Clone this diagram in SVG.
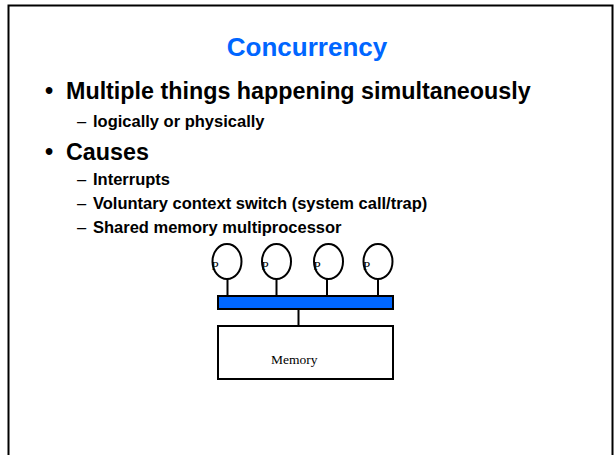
<svg xmlns="http://www.w3.org/2000/svg" width="614" height="455" viewBox="0 0 614 455">
  <style>
    .frame { fill: none; stroke: #000; stroke-width: 2; }
    .title { font-family: "Liberation Sans", Arial, sans-serif; font-weight: bold; font-size: 26px; fill: #0066ff; }
    .main { font-family: "Liberation Sans", Arial, sans-serif; font-weight: bold; font-size: 23.3px; fill: #000; }
    .sub { font-family: "Liberation Sans", Arial, sans-serif; font-weight: bold; font-size: 16.5px; fill: #000; }
    .dash { font-family: "Liberation Sans", Arial, sans-serif; font-size: 16.5px; fill: #000; }
    .cpu { fill: none; stroke: #000; stroke-width: 2; }
    .plabel { font-family: "Liberation Serif", "Times New Roman", serif; font-size: 13px; fill: #000; }
    .bus { fill: #0066ff; stroke: #000; stroke-width: 2; }
    .mem { fill: #fff; stroke: #000; stroke-width: 2; }
    .memtext { font-family: "Liberation Serif", "Times New Roman", serif; font-size: 13.5px; fill: #000; }
    .wire { stroke: #000; stroke-width: 2; fill: none; }
  </style>

  <!-- slide border (bottom edge runs off the page) -->
  <rect class="frame" x="8.5" y="5.5" width="604" height="470"/>

  <!-- heading and bullet text -->
  <text class="title" x="307" y="56" text-anchor="middle">Concurrency</text>

  <text class="main" x="45" y="99">•</text>
  <text class="main" x="66" y="99">Multiple things happening simultaneously</text>
  <text class="dash" x="77" y="127">–</text>
  <text class="sub" x="93" y="127">logically or physically</text>

  <text class="main" x="45" y="160">•</text>
  <text class="main" x="66" y="160">Causes</text>
  <text class="dash" x="77" y="185">–</text>
  <text class="sub" x="93" y="185">Interrupts</text>
  <text class="dash" x="77" y="209">–</text>
  <text class="sub" x="93" y="209">Voluntary context switch (system call/trap)</text>
  <text class="dash" x="77" y="232.5">–</text>
  <text class="sub" x="93" y="232.5">Shared memory multiprocessor</text>

  <!-- connectors: processor stems and bus-to-memory link -->
  <g id="connectors">
    <line class="wire" x1="227.5" y1="279" x2="227.5" y2="296"/>
    <line class="wire" x1="276.5" y1="279" x2="276.5" y2="296"/>
    <line class="wire" x1="327" y1="279" x2="327" y2="296"/>
    <line class="wire" x1="378" y1="279" x2="378" y2="296"/>
    <line class="wire" x1="298.5" y1="309" x2="298.5" y2="326"/>
  </g>

  <!-- processors -->
  <g id="cpu1">
    <text class="plabel" x="211.5" y="270">P</text>
    <ellipse class="cpu" cx="227" cy="261.5" rx="14.5" ry="17.5"/>
  </g>
  <g id="cpu2">
    <text class="plabel" x="261.5" y="270">P</text>
    <ellipse class="cpu" cx="276.5" cy="261.5" rx="14.5" ry="17.5"/>
  </g>
  <g id="cpu3">
    <text class="plabel" x="313.5" y="270">P</text>
    <ellipse class="cpu" cx="328.5" cy="261.5" rx="14.5" ry="17.5"/>
  </g>
  <g id="cpu4">
    <text class="plabel" x="363" y="270">P</text>
    <ellipse class="cpu" cx="378" cy="261.5" rx="14.5" ry="17.5"/>
  </g>

  <!-- shared bus -->
  <g id="bus">
    <rect class="bus" x="218" y="296" width="175" height="13"/>
  </g>

  <!-- memory -->
  <g id="memory">
    <rect class="mem" x="218" y="326" width="175" height="53"/>
    <text class="memtext" x="271" y="363.5">Memory</text>
  </g>
</svg>
